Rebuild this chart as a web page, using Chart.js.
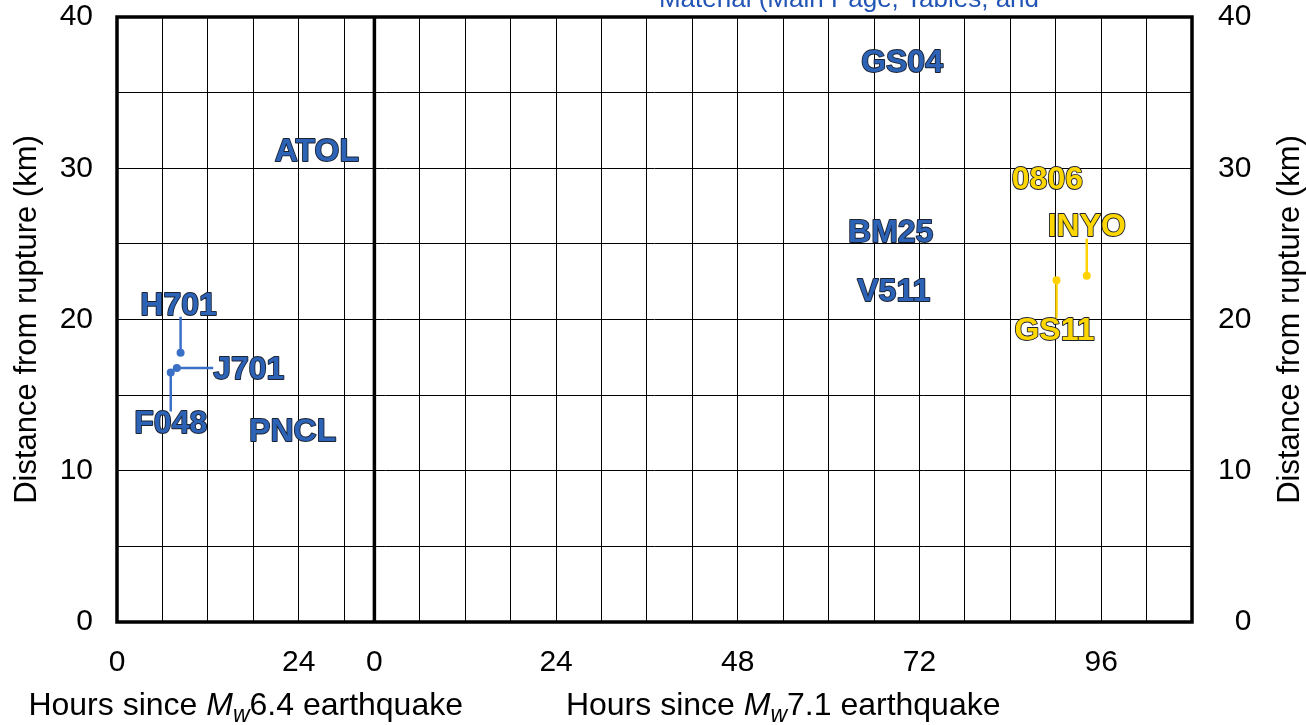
<!DOCTYPE html>
<html>
<head>
<meta charset="utf-8">
<script src="https://cdn.jsdelivr.net/npm/chart.js@4.4.1/dist/chart.umd.min.js"></script>
<style>
  html, body { margin: 0; padding: 0; background: #ffffff; }
  #wrap { width: 1306px; height: 725px; position: relative; }
  canvas { display: block; }
</style>
</head>
<body>
<div id="wrap"><canvas id="chart" width="1306" height="725"></canvas></div>
<script>
// Time axis: hours after the Mw6.4 event (left panel) and after the Mw7.1 event (right panel)
const leftPanelHours = 34;
const rightPanelHours = 108;
const gridStepHours = 6;
const leftTickHours = [0, 24];
const rightTickHours = [0, 24, 48, 72, 96];
const distanceTicks = [0, 10, 20, 30, 40];

// Stations installed after the Mw6.4 event
const foreshockStations = ['H701', 'J701', 'F048', 'PNCL', 'ATOL'];
const foreshockHours = [8.4, 7.9, 7.1, 23.2, 26.4];
const foreshockDistKm = [17.8, 16.8, 16.5, 12.6, 31.1];

// Stations installed after the Mw7.1 event
const mainshockBlueStations = ['GS04', 'BM25', 'V511'];
const mainshockBlueHours = [69.7, 68.2, 68.6];
const mainshockBlueDistKm = [37.0, 25.8, 21.9];

const mainshockGoldStations = ['0806', 'INYO', 'GS11'];
const mainshockGoldHours = [88.9, 94.1, 90.1];
const mainshockGoldDistKm = [29.3, 22.9, 22.6];

const headerText = 'Material (Main Page, Tables, and';

// Label placement (pixel offsets) for stations whose label sits away from the marker
const labelOffsets = {
  H701: [-2, -48],
  J701: [72, 1],
  F048: [0, 51],
  INYO: [0, -49],
  GS11: [-2, 50]
};

const FONT = "'Liberation Sans', Arial, Helvetica, sans-serif";
const BLUE_TEXT = '#2c63b7';
const BLUE_MARK = '#3a70c6';
const GOLD_TEXT = '#ffd700';
const GOLD_MARK = '#ffd200';

function toPoints(hours, dist, shift) {
  return hours.map((h, i) => ({ x: h + shift, y: dist[i] }));
}

function makeDataset(name, hours, dist, stations, shift, textColor, markColor) {
  return {
    label: name,
    data: toPoints(hours, dist, shift),
    stations: stations,
    textColor: textColor,
    markColor: markColor,
    backgroundColor: markColor,
    borderColor: markColor,
    pointRadius: ctx => (labelOffsets[stations[ctx.dataIndex]] ? 4 : 0),
    pointHoverRadius: ctx => (labelOffsets[stations[ctx.dataIndex]] ? 4 : 0),
    pointBorderWidth: 0,
    showLine: false
  };
}

const gridHours = [];
for (let h = 0; h < leftPanelHours; h += gridStepHours) gridHours.push(h);
for (let h = 0; h <= rightPanelHours; h += gridStepHours) gridHours.push(h + leftPanelHours);

function hourLabel(value) {
  if (value < leftPanelHours) {
    return leftTickHours.includes(value) ? String(value) : '';
  }
  const h = value - leftPanelHours;
  return rightTickHours.includes(h) ? String(h) : '';
}

function noEdgePadding(s) {
  s.paddingTop = 0;
  s.paddingBottom = 0;
  s.paddingLeft = 0;
  s.paddingRight = 0;
}

// Frame around both panels plus the heavy divider between them
const framePlugin = {
  id: 'frame',
  beforeDatasetsDraw(chart) {
    const { ctx, chartArea: a, scales } = chart;
    ctx.save();
    ctx.strokeStyle = '#000';
    ctx.lineWidth = 3.5;
    ctx.strokeRect(a.left, a.top, a.right - a.left, a.bottom - a.top);
    const xd = scales.x.getPixelForValue(leftPanelHours);
    ctx.beginPath();
    ctx.moveTo(xd, a.top);
    ctx.lineTo(xd, a.bottom);
    ctx.stroke();
    ctx.restore();
  }
};

function labelGeometry(chart, dsIndex, i) {
  const ds = chart.data.datasets[dsIndex];
  const meta = chart.getDatasetMeta(dsIndex);
  const el = meta.data[i];
  const name = ds.stations[i];
  const off = labelOffsets[name] || [0, 0];
  return { name, px: el.x, py: el.y, lx: el.x + off[0], ly: el.y + off[1], off };
}

// Leader lines from markers to their offset labels, and the station labels
const stationLabelPlugin = {
  id: 'stationLabels',
  beforeDatasetsDraw(chart) {
    const { ctx } = chart;
    ctx.save();
    ctx.font = `bold 32px ${FONT}`;
    chart.data.datasets.forEach((ds, d) => {
      ds.data.forEach((_, i) => {
        const g = labelGeometry(chart, d, i);
        if (!labelOffsets[g.name]) return;
        ctx.strokeStyle = ds.markColor;
        ctx.lineWidth = 2.5;
        ctx.beginPath();
        ctx.moveTo(g.px, g.py);
        if (Math.abs(g.off[1]) >= Math.abs(g.off[0])) {
          const endY = g.ly - Math.sign(g.off[1]) * 12;
          ctx.lineTo(g.px, endY);
        } else {
          const w = ctx.measureText(g.name).width;
          const endX = g.lx - Math.sign(g.off[0]) * w / 2;
          ctx.lineTo(endX, g.py);
        }
        ctx.stroke();
      });
    });
    ctx.restore();
  },
  afterDatasetsDraw(chart) {
    const { ctx } = chart;
    ctx.save();
    ctx.font = `bold 32px ${FONT}`;
    ctx.textAlign = 'center';
    ctx.textBaseline = 'middle';
    ctx.lineJoin = 'round';
    chart.data.datasets.forEach((ds, d) => {
      ds.data.forEach((_, i) => {
        const g = labelGeometry(chart, d, i);
        ctx.strokeStyle = '#1c2230';
        ctx.lineWidth = 1.8;
        ctx.strokeText(g.name, g.lx, g.ly + 1);
        ctx.fillStyle = ds.textColor;
        ctx.fillText(g.name, g.lx, g.ly + 1);
      });
    });
    ctx.restore();
  }
};

// Axis titles with italic magnitude symbol, right-hand distance title, and header line
const titlesPlugin = {
  id: 'titles',
  afterDraw(chart) {
    const { ctx, chartArea: a, scales } = chart;
    const x = scales.x;
    ctx.save();
    ctx.fillStyle = '#000';
    ctx.textBaseline = 'alphabetic';
    const baseY = 715;
    const drawTitle = (centerX, mag) => {
      const parts = [
        { t: 'Hours since ', f: `32px ${FONT}`, dy: 0 },
        { t: 'M', f: `italic 32px ${FONT}`, dy: 0 },
        { t: 'w', f: `italic 23px ${FONT}`, dy: 7 },
        { t: mag + ' earthquake', f: `32px ${FONT}`, dy: 0 }
      ];
      let total = 0;
      parts.forEach(p => { ctx.font = p.f; p.w = ctx.measureText(p.t).width; total += p.w; });
      let cx = centerX - total / 2;
      ctx.textAlign = 'left';
      parts.forEach(p => { ctx.font = p.f; ctx.fillText(p.t, cx, baseY + p.dy); cx += p.w; });
    };
    drawTitle((x.getPixelForValue(0) + x.getPixelForValue(leftPanelHours)) / 2, '6.4');
    drawTitle((x.getPixelForValue(leftPanelHours) + x.getPixelForValue(leftPanelHours + rightPanelHours)) / 2, '7.1');

    ctx.save();
    ctx.translate(1290, (a.top + a.bottom) / 2);
    ctx.rotate(-Math.PI / 2);
    ctx.textAlign = 'center';
    ctx.textBaseline = 'middle';
    ctx.font = `31px ${FONT}`;
    ctx.fillText('Distance from rupture (km)', 0, 0);
    ctx.restore();

    ctx.font = `26px ${FONT}`;
    ctx.fillStyle = '#2355b6';
    ctx.textAlign = 'center';
    ctx.textBaseline = 'alphabetic';
    ctx.fillText(headerText, 849, 7);
    ctx.restore();
  }
};

const tickFont = { family: FONT, size: 30 };

new Chart(document.getElementById('chart'), {
  type: 'scatter',
  data: {
    datasets: [
      makeDataset('Mw6.4 stations', foreshockHours, foreshockDistKm, foreshockStations, 0, BLUE_TEXT, BLUE_MARK),
      makeDataset('Mw7.1 stations', mainshockBlueHours, mainshockBlueDistKm, mainshockBlueStations, leftPanelHours, BLUE_TEXT, BLUE_MARK),
      makeDataset('Mw7.1 stations (late)', mainshockGoldHours, mainshockGoldDistKm, mainshockGoldStations, leftPanelHours, GOLD_TEXT, GOLD_MARK)
    ]
  },
  options: {
    responsive: false,
    animation: false,
    devicePixelRatio: 1,
    layout: { padding: { top: 17, left: 0, right: 0, bottom: 0 } },
    plugins: { legend: { display: false }, tooltip: { enabled: false } },
    scales: {
      x: {
        type: 'linear',
        min: 0,
        max: leftPanelHours + rightPanelHours,
        afterBuildTicks: s => { s.ticks = gridHours.map(v => ({ value: v })); },
        afterFit: s => { s.height = 103; noEdgePadding(s); },
        ticks: { autoSkip: false, maxRotation: 0, minRotation: 0, padding: 23, color: '#000', font: tickFont, callback: v => hourLabel(v) },
        grid: { color: '#000', lineWidth: 1, drawTicks: false },
        border: { display: false }
      },
      y: {
        type: 'linear',
        position: 'left',
        min: 0,
        max: 40,
        afterFit: s => { s.width = 117; noEdgePadding(s); },
        ticks: { stepSize: 5, padding: 24, color: '#000', font: tickFont, callback: v => (distanceTicks.includes(v) ? String(v) : '') },
        grid: { color: '#000', lineWidth: 1, drawTicks: false },
        border: { display: false },
        title: { display: true, text: 'Distance from rupture (km)', color: '#000', font: { family: FONT, size: 31 }, padding: { top: 9, bottom: 0 } }
      },
      y2: {
        type: 'linear',
        position: 'right',
        min: 0,
        max: 40,
        afterFit: s => { s.width = 114; noEdgePadding(s); },
        ticks: { stepSize: 5, padding: 26, crossAlign: 'near', color: '#000', font: tickFont, callback: v => (distanceTicks.includes(v) ? String(v).padStart(2, '\u2007') : '') },
        grid: { drawOnChartArea: false, drawTicks: false },
        border: { display: false }
      }
    }
  },
  plugins: [framePlugin, stationLabelPlugin, titlesPlugin]
});
</script>
</body>
</html>
